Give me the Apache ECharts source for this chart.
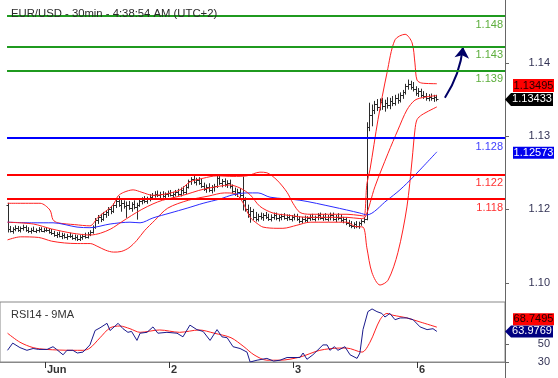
<!DOCTYPE html>
<html>
<head>
<meta charset="utf-8">
<script src="https://cdn.jsdelivr.net/npm/echarts@6/dist/echarts.min.js"></script>
<style>
  html, body { margin: 0; padding: 0; background: #fff; }
  #chart { width: 558px; height: 378px; }
</style>
</head>
<body>
<div id="chart"></div>
<script>
// EUR/USD 30min bars: [open, high, low, close], index = bar number
const ohlc = [
  [1.1170,1.1173,1.1126,1.1131],[1.1131,1.1135,1.1126,1.1128],[1.1128,1.1133,1.1124,1.1131],[1.1131,1.1136,1.1128,1.1133],
  [1.1133,1.1135,1.1127,1.1129],[1.1129,1.1134,1.1126,1.1132],[1.1132,1.1137,1.1129,1.1134],[1.1134,1.1136,1.1127,1.1130],
  [1.1130,1.1133,1.1125,1.1127],[1.1127,1.1132,1.1124,1.1130],[1.1130,1.1134,1.1127,1.1128],[1.1128,1.1131,1.1125,1.1129],
  [1.1129,1.1133,1.1126,1.1131],[1.1131,1.1133,1.1127,1.1128],[1.1128,1.1132,1.1126,1.1130],[1.1130,1.1133,1.1127,1.1129],
  [1.1129,1.1131,1.1124,1.1126],[1.1126,1.1130,1.1122,1.1124],[1.1124,1.1127,1.1119,1.1121],[1.1121,1.1125,1.1117,1.1123],
  [1.1123,1.1126,1.1118,1.1119],[1.1119,1.1124,1.1115,1.1121],[1.1121,1.1123,1.1116,1.1118],[1.1118,1.1122,1.1114,1.1120],
  [1.1120,1.1124,1.1117,1.1119],[1.1119,1.1121,1.1114,1.1116],[1.1116,1.1121,1.1113,1.1118],[1.1118,1.1120,1.1112,1.1115],
  [1.1115,1.1120,1.1112,1.1117],[1.1117,1.1122,1.1114,1.1120],[1.1120,1.1124,1.1116,1.1118],[1.1118,1.1125,1.1116,1.1123],
  [1.1123,1.1128,1.1120,1.1126],[1.1126,1.1136,1.1124,1.1134],[1.1134,1.1148,1.1132,1.1146],[1.1146,1.1153,1.1140,1.1150],
  [1.1150,1.1155,1.1143,1.1147],[1.1147,1.1158,1.1145,1.1156],[1.1156,1.1161,1.1150,1.1158],[1.1158,1.1166,1.1153,1.1163],
  [1.1163,1.1168,1.1156,1.1160],[1.1160,1.1172,1.1158,1.1170],[1.1170,1.1180,1.1166,1.1177],[1.1177,1.1184,1.1168,1.1171],
  [1.1171,1.1178,1.1160,1.1173],[1.1173,1.1177,1.1165,1.1168],[1.1168,1.1175,1.1150,1.1170],[1.1170,1.1176,1.1163,1.1166],
  [1.1166,1.1174,1.1160,1.1172],[1.1172,1.1177,1.1164,1.1167],[1.1167,1.1173,1.1147,1.1170],[1.1170,1.1178,1.1168,1.1176],
  [1.1176,1.1182,1.1172,1.1179],[1.1179,1.1184,1.1174,1.1177],[1.1177,1.1183,1.1173,1.1181],[1.1181,1.1187,1.1177,1.1184],
  [1.1184,1.1189,1.1180,1.1186],[1.1186,1.1192,1.1183,1.1189],[1.1189,1.1193,1.1184,1.1187],[1.1187,1.1191,1.1182,1.1188],
  [1.1188,1.1192,1.1183,1.1185],[1.1185,1.1190,1.1181,1.1188],[1.1188,1.1193,1.1184,1.1190],[1.1190,1.1194,1.1185,1.1187],
  [1.1187,1.1191,1.1182,1.1189],[1.1189,1.1194,1.1185,1.1192],[1.1192,1.1196,1.1186,1.1188],[1.1188,1.1198,1.1185,1.1195],
  [1.1195,1.1200,1.1188,1.1192],[1.1192,1.1203,1.1189,1.1200],[1.1200,1.1211,1.1198,1.1209],[1.1209,1.1215,1.1204,1.1212],
  [1.1212,1.1218,1.1206,1.1208],[1.1208,1.1214,1.1203,1.1211],[1.1211,1.1215,1.1204,1.1207],[1.1207,1.1212,1.1199,1.1202],
  [1.1202,1.1206,1.1194,1.1197],[1.1197,1.1203,1.1191,1.1200],[1.1200,1.1205,1.1192,1.1195],[1.1195,1.1202,1.1190,1.1199],
  [1.1199,1.1204,1.1193,1.1201],[1.1201,1.1219,1.1199,1.1214],[1.1214,1.1217,1.1204,1.1207],[1.1207,1.1212,1.1200,1.1209],
  [1.1209,1.1213,1.1201,1.1204],[1.1204,1.1210,1.1199,1.1206],[1.1206,1.1211,1.1198,1.1201],[1.1201,1.1203,1.1190,1.1193],
  [1.1193,1.1198,1.1186,1.1189],[1.1189,1.1196,1.1184,1.1192],[1.1192,1.1197,1.1183,1.1186],[1.1186,1.1216,1.1162,1.1178],
  [1.1178,1.1182,1.1160,1.1164],[1.1164,1.1170,1.1150,1.1156],[1.1156,1.1166,1.1142,1.1160],[1.1160,1.1163,1.1146,1.1151],
  [1.1151,1.1158,1.1144,1.1148],[1.1148,1.1155,1.1144,1.1152],[1.1152,1.1157,1.1147,1.1150],[1.1150,1.1156,1.1145,1.1153],
  [1.1153,1.1158,1.1148,1.1151],[1.1151,1.1155,1.1145,1.1148],[1.1148,1.1154,1.1144,1.1151],[1.1151,1.1157,1.1147,1.1154],
  [1.1154,1.1157,1.1146,1.1149],[1.1149,1.1153,1.1144,1.1150],[1.1150,1.1155,1.1146,1.1152],[1.1152,1.1156,1.1147,1.1149],
  [1.1149,1.1154,1.1145,1.1151],[1.1151,1.1154,1.1146,1.1148],[1.1148,1.1153,1.1144,1.1150],[1.1150,1.1155,1.1146,1.1152],
  [1.1152,1.1155,1.1145,1.1147],[1.1147,1.1151,1.1141,1.1144],[1.1144,1.1150,1.1141,1.1148],[1.1148,1.1152,1.1143,1.1146],
  [1.1146,1.1151,1.1142,1.1149],[1.1149,1.1154,1.1145,1.1151],[1.1151,1.1155,1.1146,1.1148],[1.1148,1.1152,1.1144,1.1150],
  [1.1150,1.1156,1.1146,1.1153],[1.1153,1.1157,1.1147,1.1149],[1.1149,1.1154,1.1145,1.1151],[1.1151,1.1156,1.1146,1.1148],
  [1.1148,1.1153,1.1144,1.1150],[1.1150,1.1157,1.1146,1.1154],[1.1154,1.1157,1.1145,1.1147],[1.1147,1.1153,1.1143,1.1150],
  [1.1150,1.1156,1.1146,1.1149],[1.1149,1.1154,1.1143,1.1145],[1.1145,1.1150,1.1141,1.1147],[1.1147,1.1149,1.1138,1.1141],
  [1.1141,1.1145,1.1135,1.1138],[1.1138,1.1143,1.1133,1.1136],[1.1136,1.1141,1.1132,1.1139],[1.1139,1.1143,1.1133,1.1135],
  [1.1135,1.1142,1.1132,1.1140],[1.1140,1.1146,1.1137,1.1144],[1.1144,1.1150,1.1141,1.1148],[1.1148,1.1305,1.1146,1.1298],
  [1.1298,1.1337,1.1292,1.1318],[1.1318,1.1334,1.1300,1.1326],[1.1326,1.1340,1.1320,1.1335],[1.1335,1.1343,1.1325,1.1330],
  [1.1330,1.1344,1.1326,1.1339],[1.1339,1.1345,1.1327,1.1332],[1.1332,1.1342,1.1324,1.1337],[1.1337,1.1346,1.1329,1.1334],
  [1.1334,1.1345,1.1328,1.1341],[1.1341,1.1348,1.1333,1.1338],[1.1338,1.1350,1.1334,1.1346],[1.1346,1.1352,1.1337,1.1343],
  [1.1343,1.1354,1.1339,1.1350],[1.1350,1.1358,1.1345,1.1355],[1.1355,1.1368,1.1352,1.1365],[1.1365,1.1375,1.1360,1.1369],
  [1.1369,1.1373,1.1360,1.1364],[1.1364,1.1371,1.1357,1.1360],[1.1360,1.1364,1.1350,1.1354],[1.1354,1.1361,1.1348,1.1357],
  [1.1357,1.1360,1.1347,1.1351],[1.1351,1.1356,1.1345,1.1349],[1.1349,1.1353,1.1342,1.1346],[1.1346,1.1351,1.1341,1.1348],
  [1.1348,1.1352,1.1342,1.1345],[1.1345,1.1350,1.1340,1.1347],[1.1347,1.1350,1.1341,1.13433]
];

// Bollinger bands and moving average, read as [bar index, price]
const upperBand = [[0,1.1173],[12.6,1.1173],[16.4,1.1162],[17.6,1.1146],[19.5,1.1141],[26,1.1138],[31.9,1.1136],
  [35,1.1150],[38,1.1160],[40.8,1.1170],[42.8,1.1185],[45,1.1191],[48.6,1.1195],[52,1.1191],[56.3,1.1186],[61,1.1188],
  [66.8,1.1195],[70.6,1.1208],[75.7,1.1214],[81.1,1.1218],[87.3,1.1217],[92.7,1.1218],[97.7,1.1224],[100.4,1.1223],
  [104.3,1.1211],[108.2,1.1191],[110.5,1.1173],[113.2,1.1158],[117.1,1.1155],[131.4,1.1155],[136.4,1.1153],[138,1.1152],
  [139.1,1.1205],[140.3,1.1228],[143.4,1.1310],[146.9,1.1387],[150,1.1441],[153.9,1.1450],[156.6,1.1436],[157.7,1.1403],
  [158.5,1.1375],[160.4,1.1370],[166.2,1.1369]];
const middleBand = [[0,1.1142],[10,1.1139],[17,1.1131],[25,1.1124],[32,1.1121],[36,1.1124],[40,1.1131],[44,1.1142],
  [48,1.1153],[52,1.1163],[56.3,1.1172],[60,1.1178],[65,1.1183],[69.5,1.1188],[74,1.1194],[78,1.1198],[82,1.1201],
  [86,1.1203],[90,1.1198],[93.9,1.1187],[97.7,1.1168],[102.8,1.1157],[109.3,1.1153],[115.9,1.1150],[131.4,1.1150],
  [136.4,1.1148],[138.4,1.1150],[142.2,1.1200],[147.3,1.1255],[151.1,1.1293],[154.6,1.1326],[157.7,1.1342],
  [161.6,1.1347],[166.2,1.13495]];
const lowerBand = [[0,1.1113],[5,1.1118],[12,1.1117],[17,1.1111],[22,1.1108],[27,1.1107],[32,1.1107],[35,1.1102],
  [38,1.1096],[41,1.1093],[44,1.1094],[47,1.1100],[50,1.1112],[53,1.1128],[57,1.1145],[62,1.1165],[70,1.1178],
  [78,1.1185],[84,1.1190],[88,1.1189],[91,1.1175],[93.9,1.1150],[96.6,1.1140],[98.9,1.1134],[104.3,1.1132],
  [106.6,1.1132],[112,1.1137],[117.1,1.1142],[131.4,1.1142],[134.5,1.1135],[137.6,1.1134],[139.1,1.1100],
  [141.1,1.1059],[144.2,1.1039],[147.3,1.1047],[151.1,1.1092],[154.6,1.1167],[156.6,1.1244],[157.7,1.1293],
  [158.5,1.1310],[160.4,1.1318],[166.2,1.1331]];
const longMA = [[0,1.1142],[9.9,1.1141],[17.6,1.1141],[26.9,1.1134],[31.9,1.1133],[39.7,1.1139],[47.4,1.1142],
  [51.3,1.1141],[56.3,1.1149],[62.9,1.1157],[69.5,1.1165],[75.7,1.1173],[82.2,1.1180],[87.3,1.1187],[92.7,1.1190],
  [97,1.1190],[101.6,1.1183],[113.2,1.1178],[126,1.1167],[136.4,1.1157],[139.1,1.1154],[146.9,1.1178],[151.9,1.1195],
  [157,1.1216],[166.2,1.12573]];

// RSI14 and its 9MA
const rsi = [[0,43],[2,51],[4.8,46],[7.5,43],[9.9,45],[12,44],[15.3,44],[17.6,47],[19,44],[21.5,38],[23,43],[25.3,43],
  [27,40],[29.2,41],[31.9,49],[33.9,65],[35.8,68],[38.5,73],[39.7,65],[42.8,73],[44.7,67],[46.6,63],[48,64],[50.1,54],
  [51.3,62],[54,63],[56.3,69],[58.2,62],[61.7,63],[65.6,62],[67.9,58],[70.6,71],[73.3,66],[75.7,64],[78.4,54],[81.1,66],
  [83,58],[85,57],[87.3,47],[90,45],[92.7,41],[93.9,30],[96.6,32],[100.4,34],[103,31],[105.5,32],[108.2,35],[113.2,35],
  [114.4,40],[115.9,33],[118.2,38],[122.1,49],[123.7,49],[124.8,43],[126.5,47],[127.9,43],[130.6,47],[132.6,38],
  [135.3,34],[136.4,40],[137.6,66],[139.5,86],[141.1,89],[143,86],[144.9,84],[146.1,80],[148,84],[150,77],[152,79],
  [154.6,79],[157,77],[159.7,69],[162.4,66],[164.7,67],[166.2,63.9769]];
const rsiMA = [[0,62],[4.8,52],[9.9,46],[15,44],[25,43],[29.2,43],[31.9,45.5],[35.8,57],[39.7,68],[43.5,70],[47.4,67],
  [51.3,63],[58.9,65.6],[66.6,63],[74.2,65.6],[80,62],[86.5,57],[91.5,47],[95.4,38],[100.4,32],[105.5,32],[113.2,35.5],
  [120.9,43],[128.6,45.5],[131.3,45.5],[137.2,41],[140.3,52],[144.2,77],[146.9,84],[149.2,82],[154.6,79],[159.7,74.5],
  [166.2,68.7495]];

// levels drawn on the chart
const resistances = [1.148, 1.143, 1.139];
const pivots = [1.128];
const supports = [1.122, 1.118];
const target = [[169.3, 1.1346], [176.3, 1.1429]];

// axes
const dayTicks = [14.5, 62.5, 110.5, 158.5];
const dayLabels = ['Jun', '2', '3', '6'];
const priceTicks = [1.1042, 1.1164, 1.1283, 1.1403];
const priceTickLabels = ['1.10', '1.12', '1.13', '1.14'];
const rsiTicks = [30, 50];

const FONT = 'Arial, "Liberation Sans", sans-serif';
const X_MIN = -2.92, X_MAX = 192.57;

const chart = echarts.init(document.getElementById('chart'));

function levelLine(v, color, labelColor) {
  return [
    { coord: [-0.2, v], lineStyle: { color: color, width: 2, type: 'solid' },
      label: { show: true, position: 'insideEndBottom', formatter: v.toFixed(3), color: labelColor,
               fontSize: 11, fontFamily: FONT, distance: [2, 3] } },
    { coord: [X_MAX, v] }
  ];
}

const levels = []
  .concat(resistances.map(v => levelLine(v, '#1f9a1f', '#5cae3c')))
  .concat(pivots.map(v => levelLine(v, '#0000ff', '#4040ff')))
  .concat(supports.map(v => levelLine(v, '#ff0000', '#ff3030')));

// price tag on the right axis
function tag(value, text, bg, color, dy, pointer, h) {
  return {
    coord: [X_MAX, value],
    symbol: pointer ? 'path://M0,6L6,0H48V12H6Z' : 'rect',
    symbolSize: pointer ? [48, h] : [41, h],
    symbolKeepAspect: false,
    symbolOffset: pointer ? [24, dy] : [28.5, dy],
    itemStyle: { color: bg },
    label: { show: true, position: 'inside', formatter: text, color: color, fontSize: 11,
             fontFamily: FONT, offset: pointer ? [3, 0] : [0, 0] }
  };
}

const lastClose = ohlc[ohlc.length - 1][3];
const lastMid = middleBand[middleBand.length - 1][1];
const lastMA = longMA[longMA.length - 1][1];
const lastRsi = rsi[rsi.length - 1][1];
const lastRsiMA = rsiMA[rsiMA.length - 1][1];

const lineBase = { type: 'line', showSymbol: false, symbol: 'none', smooth: 0.3, animation: false, silent: true };

const option = {
  animation: false,
  textStyle: { fontFamily: FONT },
  title: [
    { text: 'EUR/USD - 30min - 4:38:54 AM (UTC+2)', left: 6, top: 3,
      textStyle: { fontSize: 11.3, fontWeight: 'normal', color: '#2a2a2a', fontFamily: FONT } },
    { text: 'RSI14 - 9MA', left: 6, top: 304,
      textStyle: { fontSize: 11, fontWeight: 'normal', color: '#333', fontFamily: FONT } }
  ],
  grid: [
    { left: 0, right: 53, top: 0, height: 302 },
    { left: 0, right: 53, top: 302, height: 60, show: true, borderColor: '#888', borderWidth: 1 }
  ],
  xAxis: [
    { type: 'value', gridIndex: 0, min: X_MIN, max: X_MAX, show: false, axisLine: { onZero: false } },
    { type: 'value', gridIndex: 1, min: X_MIN, max: X_MAX,
      axisLine: { show: true, onZero: false, lineStyle: { color: '#888' } },
      splitLine: { show: false },
      axisTick: { show: true, customValues: dayTicks, length: 6, inside: false, lineStyle: { color: '#333' } },
      axisLabel: { customValues: dayTicks, align: 'left', margin: 2, padding: [0, 0, 0, 2],
                   fontSize: 11, fontWeight: 'bold', color: '#333',
                   formatter: v => dayLabels[dayTicks.indexOf(v)] } }
  ],
  yAxis: [
    { type: 'value', gridIndex: 0, position: 'right', min: 1.10112, max: 1.15062,
      splitLine: { show: false },
      axisLine: { show: true, onZero: false, lineStyle: { color: '#666' } },
      axisTick: { show: true, customValues: priceTicks, length: 4, lineStyle: { color: '#666' } },
      axisLabel: { customValues: priceTicks, align: 'right', margin: 45, fontSize: 11, color: '#333355',
                   formatter: v => priceTickLabels[priceTicks.indexOf(v)] } },
    { type: 'value', gridIndex: 1, position: 'right', min: 30, max: 96.7,
      splitLine: { show: false },
      axisLine: { show: true, onZero: false, lineStyle: { color: '#666' } },
      axisTick: { show: true, customValues: rsiTicks, length: 4, lineStyle: { color: '#666' } },
      axisLabel: { customValues: rsiTicks, align: 'right', margin: 45, fontSize: 11, color: '#333355' } }
  ],
  series: [
    Object.assign({}, lineBase, { name: 'upper', data: upperBand, lineStyle: { color: '#ff2020', width: 1 } }),
    Object.assign({}, lineBase, { name: 'lower', data: lowerBand, lineStyle: { color: '#ff2020', width: 1 } }),
    Object.assign({}, lineBase, { name: 'ma', data: longMA, lineStyle: { color: '#2a2aff', width: 1 },
      markPoint: { silent: true, data: [tag(lastMA, lastMA.toFixed(5), '#0000ee', '#fff', 1, false, 12)] } }),
    Object.assign({}, lineBase, { name: 'middle', data: middleBand, lineStyle: { color: '#ff2020', width: 1 },
      markLine: { silent: true, symbol: 'none', data: levels, animation: false },
      markPoint: { silent: true, z: 10, data: [tag(lastMid, lastMid.toFixed(5), '#ff0000', '#220000', -10, false, 13)] } }),
    {
      type: 'custom', name: 'bars', animation: false, silent: true,
      data: ohlc.map((b, i) => [i, b[0], b[1], b[2], b[3]]),
      encode: { x: 0, y: [1, 2, 3, 4] },
      renderItem: function (params, api) {
        const i = api.value(0);
        const ph = api.coord([i, api.value(2)]);
        const pl = api.coord([i, api.value(3)]);
        const po = api.coord([i, api.value(1)]);
        const pc = api.coord([i, api.value(4)]);
        const x = Math.round(ph[0]) + 0.5;
        const st = { stroke: '#2b2b2b', lineWidth: 1 };
        return { type: 'group', children: [
          { type: 'line', shape: { x1: x, y1: ph[1] - 0.5, x2: x, y2: pl[1] + 0.5 }, style: st },
          { type: 'line', shape: { x1: x - 2, y1: Math.round(po[1]) + 0.5, x2: x, y2: Math.round(po[1]) + 0.5 }, style: st },
          { type: 'line', shape: { x1: x, y1: Math.round(pc[1]) + 0.5, x2: x + 2, y2: Math.round(pc[1]) + 0.5 }, style: st }
        ] };
      },
      markPoint: { silent: true, data: [tag(lastClose, lastClose.toFixed(5), '#000000', '#ffffff', 0, true, 13)] }
    },
    {
      type: 'lines', coordinateSystem: 'cartesian2d', animation: false, silent: true,
      symbol: ['none', 'arrow'], symbolSize: 11,
      lineStyle: { color: '#000066', width: 2, curveness: -0.12, opacity: 1 },
      data: [{ coords: target }]
    },
    Object.assign({}, lineBase, { name: 'rsiMA', xAxisIndex: 1, yAxisIndex: 1, data: rsiMA,
      lineStyle: { color: '#ff2020', width: 1 },
      markPoint: { silent: true, z: 10, data: [tag(lastRsiMA, lastRsiMA.toFixed(4), '#ff0000', '#220000', -8, false, 12)] } }),
    Object.assign({}, lineBase, { name: 'rsi', xAxisIndex: 1, yAxisIndex: 1, data: rsi, smooth: false,
      lineStyle: { color: '#1a1a8c', width: 1 },
      markPoint: { silent: true, data: [tag(lastRsi, lastRsi.toFixed(4), '#000080', '#ffffff', 0, true, 12)] } })
  ],
  graphic: [
    { type: 'line', shape: { x1: 505.5, y1: 362, x2: 505.5, y2: 378 }, style: { stroke: '#666', lineWidth: 1 } }
  ]
};

chart.setOption(option);
</script>
</body>
</html>
